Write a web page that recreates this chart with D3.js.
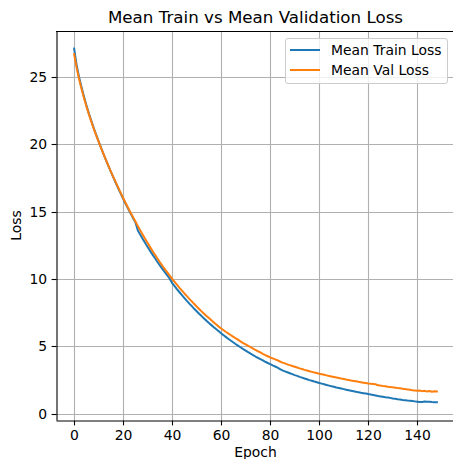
<!doctype html>
<html lang="en">
  <head>
    <meta charset="utf-8">
    <title>Mean Train vs Mean Validation Loss</title>
    <style>
      * { margin: 0; padding: 0; }
      body { width: 453px; height: 459px; overflow: hidden; background: #fff; }
      svg { display: block; font-family: "DejaVu Sans", sans-serif; }
    </style>
    <script src="https://cdn.jsdelivr.net/npm/d3@7"></script>
  </head>

  <body>
    <svg id="chart" width="453" height="459"></svg>

    <script>
      // values, one per epoch (0..148)
      const trainLoss = [
        27.10, 25.90, 25.00, 24.25, 23.55, 22.90, 22.30, 21.75, 21.20, 20.70,
        20.22, 19.74, 19.28, 18.83, 18.39, 17.96, 17.54, 17.13, 16.73, 16.34,
        15.96, 15.59, 15.23, 14.88, 14.54, 14.22, 13.60, 13.28, 12.97, 12.67,
        12.38, 12.09, 11.81, 11.54, 11.27, 11.01, 10.76, 10.51, 10.27, 10.03,
        9.70, 9.47, 9.24, 9.02, 8.80, 8.59, 8.38, 8.18, 7.99, 7.79,
        7.61, 7.42, 7.25, 7.07, 6.90, 6.74, 6.58, 6.42, 6.27, 6.12,
        5.97, 5.83, 5.69, 5.55, 5.42, 5.29, 5.16, 5.04, 4.92, 4.80,
        4.69, 4.57, 4.46, 4.36, 4.25, 4.15, 4.05, 3.96, 3.86, 3.77,
        3.68, 3.59, 3.51, 3.42, 3.32, 3.22, 3.15, 3.08, 3.01, 2.94,
        2.87, 2.81, 2.74, 2.68, 2.62, 2.56, 2.50, 2.45, 2.39, 2.34,
        2.29, 2.24, 2.19, 2.14, 2.09, 2.04, 2.00, 1.95, 1.91, 1.87,
        1.83, 1.79, 1.75, 1.71, 1.67, 1.63, 1.60, 1.56, 1.53, 1.50,
        1.46, 1.43, 1.40, 1.36, 1.32, 1.29, 1.26, 1.23, 1.21, 1.18,
        1.14, 1.11, 1.08, 1.06, 1.03, 1.01, 0.98, 0.96, 0.94, 0.92,
        0.90, 0.88, 0.87, 0.91, 0.90, 0.89, 0.87, 0.86, 0.85
      ];
      const valLoss = [
        26.70, 25.70, 24.85, 24.12, 23.45, 22.82, 22.24, 21.69, 21.16, 20.67,
        20.19, 19.72, 19.27, 18.83, 18.40, 17.98, 17.57, 17.17, 16.78, 16.40,
        16.02, 15.65, 15.29, 14.94, 14.60, 14.27, 13.93, 13.60, 13.28, 12.97,
        12.67, 12.37, 12.08, 11.80, 11.52, 11.25, 10.99, 10.74, 10.49, 10.25,
        10.02, 9.79, 9.57, 9.35, 9.14, 8.93, 8.73, 8.53, 8.34, 8.15,
        7.96, 7.78, 7.60, 7.43, 7.26, 7.10, 6.94, 6.78, 6.62, 6.47,
        6.33, 6.20, 6.07, 5.95, 5.83, 5.71, 5.59, 5.48, 5.36, 5.25,
        5.15, 5.04, 4.94, 4.84, 4.74, 4.64, 4.55, 4.45, 4.36, 4.27,
        4.18, 4.11, 4.04, 3.97, 3.88, 3.80, 3.74, 3.67, 3.61, 3.55,
        3.49, 3.43, 3.37, 3.32, 3.26, 3.21, 3.16, 3.11, 3.06, 3.02,
        2.97, 2.93, 2.89, 2.85, 2.81, 2.77, 2.73, 2.69, 2.65, 2.61,
        2.58, 2.54, 2.51, 2.47, 2.44, 2.41, 2.37, 2.34, 2.31, 2.28,
        2.25, 2.23, 2.21, 2.19, 2.11, 2.09, 2.06, 2.04, 2.01, 1.99,
        1.96, 1.94, 1.91, 1.89, 1.86, 1.83, 1.81, 1.78, 1.75, 1.73,
        1.71, 1.72, 1.68, 1.70, 1.66, 1.69, 1.64, 1.67, 1.66
      ];
      const epochs = trainLoss.map((d, i) => i);
      const xTicks = [0, 20, 40, 60, 80, 100, 120, 140];
      const yTicks = [0, 5, 10, 15, 20, 25];
      const seriesNames = ["Mean Train Loss", "Mean Val Loss"];
      const seriesColors = ["#1f77b4", "#ff7f0e"];

      const box = { left: 56, top: 31, right: 455, bottom: 420 };
      const fontPx = 13.9;

      const svg = d3.select("#chart");

      // matplotlib style 5% margins around the data
      const xMax = epochs[epochs.length - 1];
      const xPad = xMax * 0.05;
      const yMin = d3.min(trainLoss.concat(valLoss));
      const yMax = d3.max(trainLoss.concat(valLoss));
      const yPad = (yMax - yMin) * 0.05;

      const x = d3.scaleLinear()
              .domain([-xPad, xMax + xPad])
              .range([box.left, box.right]);
      const y = d3.scaleLinear()
              .domain([yMin - yPad, yMax + yPad])
              .range([box.bottom, box.top]);

      // grid
      const grid = svg.append("g").attr("stroke", "#b0b0b0").attr("stroke-width", 1.1);
      grid.selectAll(".gx").data(xTicks).join("line")
              .attr("x1", d => Math.round(x(d)) + 0.5).attr("x2", d => Math.round(x(d)) + 0.5)
              .attr("y1", box.top).attr("y2", box.bottom);
      grid.selectAll(".gy").data(yTicks).join("line")
              .attr("y1", d => Math.round(y(d)) + 0.5).attr("y2", d => Math.round(y(d)) + 0.5)
              .attr("x1", box.left).attr("x2", box.right);

      // lines
      const line = d3.line().x((d, i) => x(epochs[i])).y(d => y(d));
      [trainLoss, valLoss].forEach((series, k) => {
        svg.append("path")
                .datum(series)
                .attr("fill", "none")
                .attr("stroke", seriesColors[k])
                .attr("stroke-width", 2)
                .attr("stroke-linejoin", "round")
                .attr("stroke-linecap", "square")
                .attr("d", line);
      });

      // axes
      const xAxis = svg.append("g")
              .attr("transform", `translate(0,${box.bottom + 0.5})`)
              .call(d3.axisBottom(x).tickValues(xTicks).tickSize(4.9).tickPadding(4.5).tickSizeOuter(0));
      const yAxis = svg.append("g")
              .attr("transform", `translate(${box.left + 0.5},0)`)
              .call(d3.axisLeft(y).tickValues(yTicks).tickSize(4.9).tickPadding(4.5).tickSizeOuter(0));
      [xAxis, yAxis].forEach(a => {
        a.selectAll("text").attr("font-size", fontPx).attr("fill", "#000")
                .attr("font-family", "DejaVu Sans, sans-serif");
        a.select(".domain").attr("stroke", "#000").attr("stroke-width", 1.1);
        a.selectAll(".tick line").attr("stroke", "#000").attr("stroke-width", 1.1);
      });
      xAxis.selectAll(".tick").attr("transform", d => `translate(${Math.round(x(d)) + 0.5},0)`);
      yAxis.selectAll(".tick").attr("transform", d => `translate(0,${Math.round(y(d)) + 0.5})`);

      // top spine (right spine lies outside the picture)
      svg.append("line").attr("x1", box.left).attr("x2", box.right)
              .attr("y1", box.top + 0.5).attr("y2", box.top + 0.5)
              .attr("stroke", "#000").attr("stroke-width", 1.1);

      // titles
      svg.append("text")
              .attr("x", (box.left + box.right) / 2).attr("y", 23)
              .attr("text-anchor", "middle").attr("font-size", 16.7)
              .text("Mean Train vs Mean Validation Loss");
      svg.append("text")
              .attr("x", (box.left + box.right) / 2).attr("y", 457)
              .attr("text-anchor", "middle").attr("font-size", fontPx)
              .text("Epoch");
      svg.append("text")
              .attr("transform", `translate(21,${(box.top + box.bottom) / 2}) rotate(-90)`)
              .attr("text-anchor", "middle").attr("font-size", fontPx)
              .text("Loss");

      // legend
      const legend = svg.append("g").attr("transform", "translate(285,38)");
      legend.append("rect")
              .attr("x", 0.5).attr("y", 0.5).attr("width", 162).attr("height", 45)
              .attr("rx", 2.5)
              .attr("fill", "#fff").attr("fill-opacity", 0.8)
              .attr("stroke", "#cccccc").attr("stroke-width", 1);
      seriesNames.forEach((name, k) => {
        const ly = 12 + k * 20;
        legend.append("line")
                .attr("x1", 5).attr("x2", 35).attr("y1", ly).attr("y2", ly)
                .attr("stroke", seriesColors[k]).attr("stroke-width", 2);
        legend.append("text")
                .attr("x", 46).attr("y", ly + 5)
                .attr("font-size", fontPx)
                .text(name);
      });
    </script>
  </body>
</html>
